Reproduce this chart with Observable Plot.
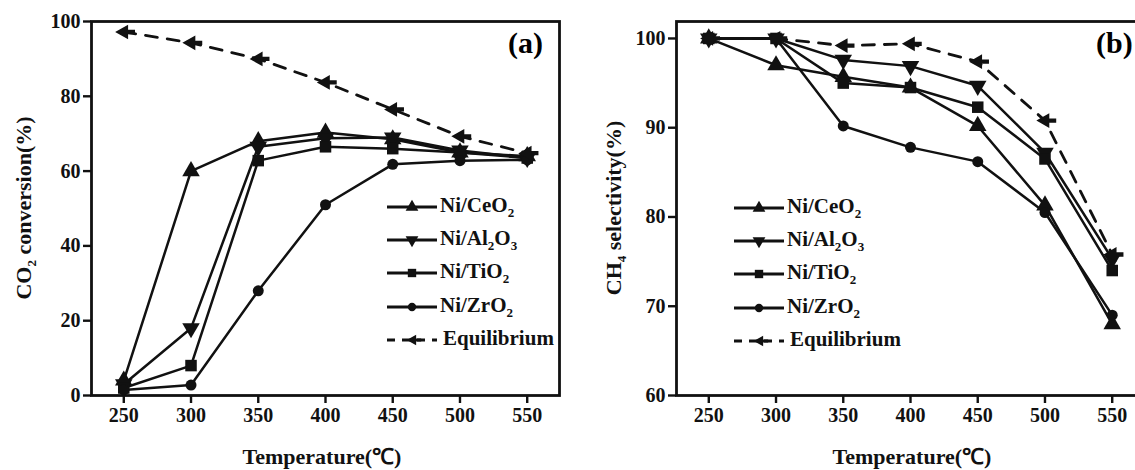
<!DOCTYPE html>
<html><head><meta charset="utf-8">
<script src="https://cdn.jsdelivr.net/npm/d3@7"></script>
<script src="https://cdn.jsdelivr.net/npm/@observablehq/plot@0.6"></script>
<style>
body{margin:0;background:#fff;overflow:hidden;}
#wrap{position:relative;width:1135px;height:470px;overflow:hidden;font-family:"Liberation Serif","Times New Roman",serif;font-weight:bold;}
#wrap svg text{font-family:"Liberation Serif","Times New Roman",serif;}
.panel{position:absolute;top:0;}
.lab{position:absolute;font-size:22px;white-space:nowrap;color:#111;}
.ylab{transform:translate(-50%,-50%) rotate(-90deg);}
.xlab{transform:translate(-50%,-50%);}
.tag{position:absolute;font-size:30px;}
.legend{position:absolute;font-size:21px;color:#111;}
.legend .row{position:absolute;left:0;white-space:nowrap;height:20px;}
.legend svg{position:absolute;left:0;top:0;}
.legend span{position:absolute;left:54px;top:-4px;}
sub{font-size:13px;vertical-align:-5px;line-height:0;}
</style></head>
<body><div id="wrap"></div>
<script>
const temps = [250, 300, 350, 400, 450, 500, 550];
const seriesNames = ["Ni/CeO2", "Ni/Al2O3", "Ni/TiO2", "Ni/ZrO2", "Equilibrium"];
// Panel (a): CO2 conversion (%)
const convCeO2  = [4, 60, 68, 70.3, 68.5, 65, 64];
const convAl2O3 = [3, 18, 66.5, 68.8, 69, 65.5, 63.5];
const convTiO2  = [2, 8, 62.8, 66.5, 66, 65, 63.5];
const convZrO2  = [1.5, 2.8, 28, 51, 61.8, 62.8, 63];
const convEq    = [97.2, 94.3, 90, 83.7, 76.5, 69.3, 64.8];
// Panel (b): CH4 selectivity (%)
const selCeO2  = [100, 97, 95.7, 94.5, 90.2, 81.3, 68];
const selAl2O3 = [100, 100, 97.6, 96.9, 94.7, 87.2, 75.3];
const selTiO2  = [100, 100, 95, 94.5, 92.3, 86.5, 74];
const selZrO2  = [100, 100, 90.2, 87.8, 86.2, 80.5, 69];
const selEq    = [100, 100, 99.2, 99.4, 97.4, 90.8, 75.8];
const yTicksA = [0, 20, 40, 60, 80, 100];
const yTicksB = [60, 70, 80, 90, 100];

const arrowLeft = {
  draw(ctx, size) {
    const r = Math.sqrt(size) * 0.75;
    ctx.moveTo(-r, 0);
    ctx.lineTo(r * 0.5, -r * 0.85);
    ctx.lineTo(r * 0.5, r * 0.85);
    ctx.closePath();
    ctx.moveTo(r * 0.5, -r * 0.25);
    ctx.lineTo(r * 1.3, -r * 0.25);
    ctx.lineTo(r * 1.3, r * 0.25);
    ctx.lineTo(r * 0.5, r * 0.25);
    ctx.closePath();
  }
};
const triDown = {draw(ctx, size) {const s = Math.sqrt(size * 4 / Math.sqrt(3)); const h = s * Math.sqrt(3) / 2; ctx.moveTo(0, h * 2 / 3); ctx.lineTo(s / 2, -h / 3); ctx.lineTo(-s / 2, -h / 3); ctx.closePath();}};
const symbols = {"Ni/CeO2": d3.symbolTriangle, "Ni/Al2O3": triDown, "Ni/TiO2": d3.symbolSquare, "Ni/ZrO2": d3.symbolCircle, "Equilibrium": arrowLeft};

function rows(arrs) {
  const out = [];
  arrs.forEach((a, i) => a.forEach((v, j) => out.push({s: seriesNames[i], t: temps[j], v})));
  return out;
}

function panel(data, opts) {
  const solid = data.filter(d => d.s !== "Equilibrium");
  const eq = data.filter(d => d.s === "Equilibrium");
  const marks = [
    Plot.line(eq, {x: "t", y: "v", stroke: "#111", strokeWidth: 2.8, strokeDasharray: "12,10"}),
    Plot.line(solid, {x: "t", y: "v", z: "s", stroke: "#111", strokeWidth: 2.5}),
  ];
  for (const name of seriesNames) {
    marks.push(Plot.dot(data.filter(d => d.s === name), {x: "t", y: "v", symbol: symbols[name], fill: "#111", stroke: "none", r: name === "Ni/ZrO2" ? 5.5 : 6.5}));
  }
  marks.push(Plot.frame({stroke: "#111", strokeWidth: 2.8}));
  marks.push(Plot.axisX({ticks: temps, tickSize: 8, tickPadding: 4, tickFormat: d => d, strokeWidth: 2.4, label: null}));
  marks.push(Plot.axisY({ticks: opts.yticks, tickSize: 8, tickPadding: 3, tickFormat: d => d, strokeWidth: 2.4, label: null}));
  return Plot.plot({
    width: opts.ml + 468 + 13, height: 470,
    marginLeft: opts.ml, marginRight: 13, marginTop: 21, marginBottom: 75,
    x: {domain: [226, 574]},
    y: {domain: opts.ydomain},
    style: {fontFamily: '"Liberation Serif", "Times New Roman", serif', fontWeight: "bold", fontSize: "20px", background: "transparent", color: "#111", overflow: "visible"},
    marks
  });
}

const wrap = document.getElementById("wrap");
const pa = panel(rows([convCeO2, convAl2O3, convTiO2, convZrO2, convEq]), {ml: 91, ydomain: [0, 100], yticks: yTicksA});
pa.classList.add("panel"); pa.style.left = "0px";
wrap.appendChild(pa);
const pb = panel(rows([selCeO2, selAl2O3, selTiO2, selZrO2, selEq]), {ml: 84, ydomain: [60, 101.9], yticks: yTicksB});
pb.classList.add("panel"); pb.style.left = "592px";
wrap.appendChild(pb);

function addHTML(html, cls, left, top) {
  const d = document.createElement("div");
  d.className = cls; d.innerHTML = html;
  d.style.left = left + "px"; d.style.top = top + "px";
  wrap.appendChild(d);
  return d;
}
addHTML("CO<sub>2</sub> conversion(%)", "lab ylab", 24, 208);
addHTML("CH<sub>4</sub> selectivity(%)", "lab ylab", 614, 208);
addHTML("Temperature(℃)", "lab xlab", 322, 455);
addHTML("Temperature(℃)", "lab xlab", 912, 455);
addHTML("(a)", "tag", 508, 26);
addHTML("(b)", "tag", 1096, 26);

const legendLabels = ["Ni/CeO<sub>2</sub>", "Ni/Al<sub>2</sub>O<sub>3</sub>", "Ni/TiO<sub>2</sub>", "Ni/ZrO<sub>2</sub>", "Equilibrium"];
function legend(left, top) {
  const lg = document.createElement("div");
  lg.className = "legend"; lg.style.left = left + "px"; lg.style.top = top + "px";
  seriesNames.forEach((name, i) => {
    const row = document.createElement("div");
    row.className = "row"; row.style.top = (i * 33.2) + "px";
    const eq = name === "Equilibrium";
    const sym = d3.symbol(symbols[name], name === "Ni/ZrO2" ? 55 : 70)();
    row.innerHTML = `<svg width="54" height="20"><line x1="1" x2="51" y1="10" y2="10" stroke="#111" stroke-width="3" ${eq ? 'stroke-dasharray="8,7"' : ''}/><path d="${sym}" transform="translate(${eq ? 27 : 26},10)" fill="#111"/></svg><span${eq ? ' style="left:57px"' : ''}>${legendLabels[i]}</span>`;
    lg.appendChild(row);
  });
  wrap.appendChild(lg);
}
legend(386, 197);
legend(733, 198);
</script>
</body></html>
